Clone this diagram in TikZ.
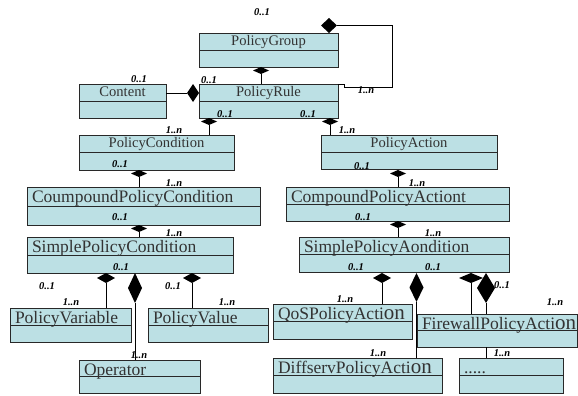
\documentclass[tikz,border=0pt]{standalone}
\usepackage{fontspec}
\setmainfont{Liberation Serif}
\usepackage{tikz}
\usetikzlibrary{shapes,arrows,positioning,calc}

\definecolor{clsfill}{RGB}{188,224,228}
\definecolor{clsdraw}{RGB}{40,40,40}

% class box: name, x1, y1, x2, y2, title style, title
\newcommand{\umlclass}[7]{%
\node (#1) [cls,anchor=north west,minimum width={(#4-#2)*1pt},
minimum height={(#5-#3)*1pt}] at (#2,#3) {};
\draw [clsdraw,line width=0.8pt] (#1.west) -- (#1.east);
\node (#1-txt) [#6=#1] {#7};}
\newcommand{\bigon}{{\fontsize{21}{21}\selectfont on}}

\begin{document}
\begin{tikzpicture}[x=1pt,y=-1pt,every node/.style={outer sep=0pt}]
\tikzstyle{cls}=[draw=clsdraw,fill=clsfill,line width=0.8pt,inner sep=0pt]
\tikzstyle{ctitle}=[at={($(#1.north)+(0,12.5)$)},anchor=base,inner sep=0pt,
text=black!80,font=\fontsize{14.6}{15}\selectfont]
\tikzstyle{ltitle}=[at={($(#1.north west)+(5,15.5)$)},anchor=base west,
inner sep=0pt,text=black!80,font=\fontsize{17.5}{18}\selectfont]
\tikzstyle{comp}=[diamond,fill=black,draw=none,inner sep=0pt]
\tikzstyle{mult}=[inner sep=0pt,font=\fontsize{10.5}{11}\selectfont\bfseries\itshape]
\tikzstyle{link}=[draw=black,line width=0.8pt]
\useasboundingbox (0,0) rectangle (578,396);
%
\umlclass{group}{199}{33}{338}{67}{ctitle}{PolicyGroup}
\umlclass{content}{79}{84}{166}{118}{ctitle}{Content}
\umlclass{rule}{199}{84}{338}{118}{ctitle}{PolicyRule}
\umlclass{cond}{79}{135}{234}{170}{ctitle}{PolicyCondition}
\umlclass{action}{321}{135}{497}{169}{ctitle}{PolicyAction}
\umlclass{ccond}{27}{187}{260}{225}{ltitle}{CoumpoundPolicyCondition}
\umlclass{caction}{286}{187}{509}{221}{ltitle}{CompoundPolicyActiont}
\umlclass{scond}{27}{237}{233}{273}{ltitle}{SimplePolicyCondition}
\umlclass{saction}{299}{237}{509}{272}{ltitle}{SimplePolicyAondition}
\umlclass{var}{10}{308}{131}{342}{ltitle}{PolicyVariable}
\umlclass{val}{148}{308}{268}{342}{ltitle}{PolicyValue}
\umlclass{oper}{79}{360}{200}{393}{ltitle}{Operator}
\umlclass{qos}{273}{304}{412}{339}{ltitle}{QoSPolicyActi\bigon}
\umlclass{diff}{273}{358}{442}{393}{ltitle}{DiffservPolicyActi\bigon}
\umlclass{fw}{417}{314}{577}{347}{ltitle}{FirewallPolicyActi\bigon}
\umlclass{dots}{459}{358}{563}{393}{ltitle}{.....}
%
% composition diamonds
\node (dgroup) [comp,minimum width=16pt,minimum height=7pt] at (261,70.5) {};
\node (dloop) [comp,minimum width=16pt,minimum height=15pt] at (329,25.5) {};
\node (dcontent) [comp,minimum width=12pt,minimum height=18pt] at (193,93) {};
\node (dcond) [comp,minimum width=16pt,minimum height=7pt] at (209,121.5) {};
\node (daction) [comp,minimum width=16pt,minimum height=7pt] at (330,121.5) {};
\node (dccond) [comp,minimum width=16pt,minimum height=7pt] at (139,173.5) {};
\node (dcaction) [comp,minimum width=16pt,minimum height=7pt] at (398,173.5) {};
\node (dscond) [comp,minimum width=16pt,minimum height=7pt] at (139,228.5) {};
\node (dsaction) [comp,minimum width=16pt,minimum height=7pt] at (398,224.5) {};
\node (dvar) [comp,minimum width=18pt,minimum height=10pt] at (106,278) {};
\node (doper) [comp,minimum width=14pt,minimum height=30pt] at (135,288) {};
\node (dval) [comp,minimum width=18pt,minimum height=10pt] at (192,278) {};
\node (dqos) [comp,minimum width=18pt,minimum height=10pt] at (382,278) {};
\node (ddiff) [comp,minimum width=14pt,minimum height=29pt] at (416.5,287.5) {};
\node (dfw) [comp,minimum width=24pt,minimum height=10pt] at (471,278) {};
\node (ddots) [comp,minimum width=18pt,minimum height=30pt] at (486,288) {};
%
% links
\coordinate (loopc) at (392,87);
\draw [link] (dloop.east) -| (loopc) -| ($(rule.north east)+(6,0)$) -- (rule.north east);
\draw [link] (dgroup.south) -- (dgroup.south |- rule.north);
\draw [link] (dcontent.west) -- (dcontent.west -| content.east);
\draw [link] (dcond.south) -- (dcond.south |- cond.north);
\draw [link] (daction.south) -- (daction.south |- action.north);
\draw [link] (dccond.south) -- (dccond.south |- ccond.north);
\draw [link] (dcaction.south) -- (dcaction.south |- caction.north);
\draw [link] (dscond.south) -- (dscond.south |- scond.north);
\draw [link] (dsaction.south) -- (dsaction.south |- saction.north);
\draw [link] (dvar.south) -- (dvar.south |- var.north);
\draw [link] (doper.south) -- (doper.south |- oper.north);
\draw [link] (dval.south) -- (dval.south |- val.north);
\draw [link] (dqos.south) -- (dqos.south |- qos.north);
\draw [link] (ddiff.south) -- (ddiff.south |- diff.north);
\draw [link] (dfw.south) -- (dfw.south |- fw.north);
\draw [link] (ddots.south) -- (ddots.south |- fw.north);
\draw [link] (ddots |- fw.south) -- (ddots |- dots.north);
%
% multiplicities
\node (m1) [mult] at (262,12) {0..1};
\node (m2) [mult] at (139,79) {0..1};
\node (m3) [mult] at (209,80) {0..1};
\node (m4) [mult] at (366,90) {1..n};
\node (m5) [mult] at (225,114) {0..1};
\node (m6) [mult] at (308,114) {0..1};
\node (m7) [mult] at (174,130.5) {1..n};
\node (m8) [mult] at (347,130.5) {1..n};
\node (m9) [mult] at (120,164) {0..1};
\node (m10) [mult] at (362,166) {0..1};
\node (m11) [mult] at (174,183) {1..n};
\node (m12) [mult] at (417,183) {1..n};
\node (m13) [mult] at (120,217) {0..1};
\node (m14) [mult] at (363,217) {0..1};
\node (m15) [mult] at (174,233) {1..n};
\node (m16) [mult] at (433,233) {1..n};
\node (m17) [mult] at (121,267) {0..1};
\node (m18) [mult] at (356,267) {0..1};
\node (m19) [mult] at (433,267) {0..1};
\node (m20) [mult] at (47,286) {0..1};
\node (m21) [mult] at (173,286) {0..1};
\node (m22) [mult] at (502,285) {0..1};
\node (m23) [mult] at (71,302) {1..n};
\node (m24) [mult] at (227,302) {1..n};
\node (m25) [mult] at (345,299) {1..n};
\node (m26) [mult] at (555,302) {1..n};
\node (m27) [mult] at (139,355) {1..n};
\node (m28) [mult] at (378,353) {1..n};
\node (m29) [mult] at (502,353) {1..n};
\end{tikzpicture}
\end{document}
